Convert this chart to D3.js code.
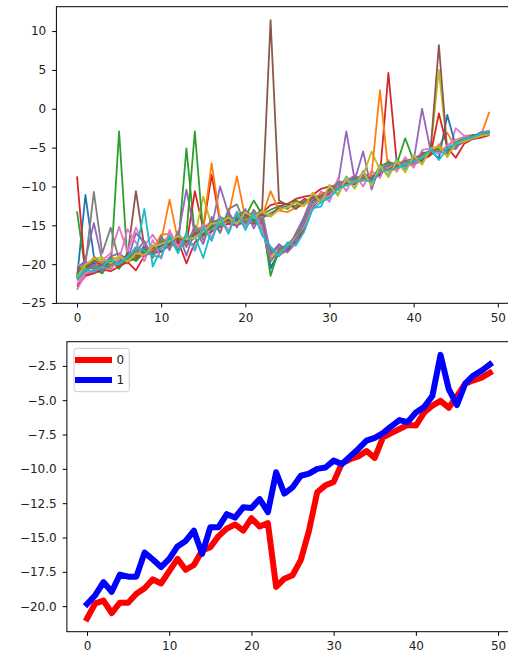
<!DOCTYPE html>
<html>
<head>
<meta charset="utf-8">
<script src="https://cdn.jsdelivr.net/npm/d3@7"></script>
<style>
  body { margin: 0; background: #fff; }
  svg { display: block; font-family: "DejaVu Sans", sans-serif; }
</style>
</head>
<body>
<div id="chart"></div>
<script>
// Step index shared by every line (x axis)
const steps = d3.range(50);

// Top panel: twenty runs
const series0 = [-21.8,-11.1,-19.0,-20.0,-19.3,-20.4,-18.6,-19.2,-17.6,-18.9,-17.9,-17.1,-16.8,-17.6,-16.5,-15.2,-15.4,-14.0,-14.6,-14.1,-14.0,-13.8,-14.6,-20.4,-18.6,-17.4,-17.2,-14.9,-12.2,-11.0,-10.6,-10.0,-9.0,-9.5,-8.4,-8.9,-7.9,-7.0,-7.4,-6.5,-7.2,-5.6,-5.7,-5.4,-5.2,-4.9,-4.0,-3.5,-3.3,-2.9];
const series1 = [-20.3,-20.5,-19.1,-21.0,-19.2,-19.3,-19.6,-18.2,-18.5,-17.9,-17.0,-11.7,-17.0,-16.4,-16.6,-15.3,-14.5,-14.8,-13.7,-8.7,-14.1,-14.6,-13.5,-19.2,-18.9,-18.2,-16.3,-15.2,-12.5,-11.6,-11.3,-9.8,-9.7,-8.8,-9.0,-8.8,-8.1,-7.7,-6.8,-7.1,-6.6,-6.2,-5.2,-4.8,-3.1,-5.0,-3.6,-3.8,-3.2,-3.1];
const series2 = [-13.2,-20.9,-20.2,-19.9,-20.6,-2.9,-19.8,-19.0,-18.6,-17.6,-17.8,-16.9,-17.9,-5.1,-16.3,-16.1,-15.2,-14.8,-14.4,-14.0,-13.9,-11.8,-13.6,-13.0,-12.5,-12.9,-11.8,-12.3,-11.4,-11.5,-10.7,-9.3,-9.6,-8.9,-8.9,-9.0,-7.5,-7.6,-7.3,-6.6,-6.7,-6.1,-5.6,-4.9,-5.8,-4.5,-3.9,-3.4,-3.5,-3.1];
const series3 = [-8.7,-21.3,-21.0,-20.8,-20.2,-20.0,-19.4,-19.4,-18.3,-18.8,-17.2,-17.3,-16.9,-17.5,-10.6,-15.4,-8.5,-14.6,-13.9,-14.2,-13.2,-13.8,-13.4,-12.4,-12.1,-12.3,-11.6,-11.3,-11.1,-10.3,-10.0,-9.9,-9.8,-9.3,-8.5,-8.6,-8.6,4.6,-7.0,-6.9,-7.0,-6.3,-5.9,-5.3,-5.4,-4.9,-4.2,-3.7,-3.6,-3.3];
const series4 = [-21.2,-19.4,-14.7,-19.6,-20.1,-19.2,-19.9,-17.9,-18.9,-18.0,-17.4,-17.6,-16.5,-10.4,-16.2,-15.0,-15.3,-10.0,-13.5,-14.8,-13.4,-14.5,-14.3,-18.8,-17.9,-18.1,-16.0,-13.9,-11.1,-11.4,-10.5,-9.7,-2.9,-9.2,-5.5,-10.4,-7.3,-7.9,-7.6,-6.7,-6.4,-5.8,-5.5,-5.6,-4.8,-5.2,-3.7,-3.9,-3.1,-2.8];
const series5 = [-20.6,-20.2,-20.0,-20.3,-19.4,-20.1,-18.9,-10.6,-17.8,-18.2,-17.7,-16.8,-17.2,-17.3,-15.8,-15.9,-14.7,-14.2,-14.8,-14.4,-13.8,-14.0,-12.9,11.4,-11.8,-12.4,-12.5,-11.6,-11.9,-10.8,-10.9,-10.2,-9.4,-9.0,-8.8,-9.4,-7.9,-7.2,-7.2,-7.0,-6.8,-5.7,-5.9,-5.0,-5.5,-4.6,-4.1,-3.7,-3.3,-3.2];
const series6 = [-22.6,-21.0,-20.8,-19.5,-18.6,-15.2,-18.4,-15.3,-17.6,-16.2,-17.9,-17.0,-17.6,-16.8,-16.7,-15.6,-15.6,-14.3,-14.2,-14.9,-13.5,-14.4,-14.4,-18.3,-18.2,-17.6,-17.0,-14.2,-13.0,-10.6,-12.0,-9.0,-10.6,-8.4,-10.0,-8.0,-8.9,-6.6,-8.1,-6.2,-7.6,-5.3,-5.1,-5.2,-6.0,-2.5,-3.5,-3.4,-3.5,-3.0];
const series7 = [-21.4,-20.0,-10.7,-18.6,-15.3,-19.5,-19.3,-18.4,-18.0,-18.6,-17.3,-16.4,-17.1,-16.9,-15.7,-15.8,-15.0,-14.5,-13.8,-14.6,-13.7,-13.9,-14.1,-13.4,-12.9,-12.5,-12.6,-12.2,-11.3,-11.1,-11.2,-9.9,-9.1,-9.4,-8.9,-8.8,-7.8,-7.3,-7.5,-6.9,-6.8,-6.0,-5.6,-5.3,-5.7,-4.8,-3.9,-3.6,-3.2,-3.1];
const series8 = [-20.0,-20.6,-19.9,-19.2,-20.4,-19.0,-19.4,-18.9,-18.4,-17.8,-17.6,-16.3,-17.5,-16.7,-16.4,-11.3,-15.1,-14.6,-14.3,-14.3,-13.9,-14.1,-14.5,-19.0,-18.4,-17.9,-16.9,-15.0,-12.3,-11.3,-10.8,-9.8,-9.4,-9.0,-8.6,-5.5,-7.9,-7.6,-7.3,-6.6,-7.1,-5.8,-5.6,5.0,-5.3,-4.6,-3.9,-3.5,-3.4,-3.1];
const series9 = [-21.6,-20.3,-20.4,-20.9,-19.6,-20.2,-18.8,-18.6,-12.9,-20.3,-18.0,-17.2,-18.0,-17.2,-16.4,-19.2,-15.5,-15.0,-14.0,-14.7,-14.3,-13.7,-15.8,-18.0,-18.8,-17.2,-17.5,-15.4,-12.8,-12.6,-10.2,-11.0,-8.7,-10.2,-8.0,-9.7,-7.2,-8.6,-6.5,-7.8,-6.3,-6.9,-5.3,-5.8,-4.9,-4.6,-3.8,-3.6,-3.3,-2.9];
const series10 = [-20.8,-20.9,-19.8,-20.6,-19.9,-19.6,-19.2,-18.8,-18.2,-18.3,-17.6,-16.7,-17.3,-17.1,-16.1,-15.9,-15.0,-14.5,-14.2,-14.4,-13.6,-14.3,-14.8,-20.6,-18.5,-18.3,-16.6,-14.6,-11.9,-11.2,-11.4,-9.5,-9.5,-8.9,-8.7,-9.1,-7.8,-7.5,-7.2,-6.8,-6.9,-5.9,-5.4,-6.4,-0.8,-4.8,-4.0,-3.4,-3.3,-3.0];
const series11 = [-21.1,-20.4,-20.3,-19.7,-20.3,-19.5,-19.8,-18.5,-18.7,-18.1,-16.2,-16.1,-17.8,-17.4,-15.5,-15.2,-7.0,-14.3,-14.6,-13.9,-14.2,-13.5,-13.9,-10.6,-13.1,-13.3,-12.7,-12.4,-11.6,-11.0,-11.1,-10.4,-9.7,-9.2,-9.3,-8.5,2.4,-8.1,-7.7,-7.3,-6.5,-6.4,-5.8,-4.6,-6.2,-4.3,-3.8,-3.7,-3.4,-0.4];
const series12 = [-21.3,-20.1,-20.6,-21.2,-19.5,-20.6,-19.0,-19.6,-18.5,-18.6,-17.1,-16.9,-18.2,-16.2,-2.9,-16.2,-15.3,-13.9,-14.5,-13.8,-13.1,-14.6,-14.2,-21.5,-18.1,-17.5,-16.4,-14.4,-12.1,-11.7,-10.8,-9.7,-9.9,-8.8,-8.8,-9.3,-7.4,-6.9,-7.1,-3.8,-6.7,-6.5,-5.6,-5.1,-5.9,-4.4,-3.7,-3.5,-3.4,-3.2];
const series13 = [-22.9,-21.5,-21.2,-20.7,-20.9,-20.3,-19.7,-20.8,-18.9,-18.5,-18.4,-17.5,-17.0,-19.9,-17.2,-16.3,-15.8,-15.2,-14.8,-15.0,-14.5,-14.8,-14.6,-18.5,-17.6,-18.0,-17.1,-15.6,-12.6,-11.4,-11.0,-10.3,-9.6,-9.7,-8.9,-9.5,-8.2,-7.8,-7.4,-7.3,-7.2,-6.6,-6.0,-0.6,-5.0,-6.3,-4.5,-3.9,-3.7,-3.4];
const series14 = [-20.5,-19.6,-20.7,-20.1,-19.0,-18.6,-19.5,-16.0,-17.2,-19.0,-16.6,-18.2,-15.8,-18.9,-15.6,-17.4,-13.9,-15.9,-13.2,-15.3,-12.9,-15.4,-13.3,-18.7,-17.4,-18.5,-17.3,-13.9,-11.2,-11.6,-10.7,-9.6,-9.3,-8.6,-9.1,-9.0,-7.7,-7.4,-7.0,-7.4,-6.7,0.0,-5.3,-5.5,-5.8,-4.6,-4.1,-3.6,-3.0,-3.1];
const series15 = [-20.9,-20.7,-19.5,-20.2,-19.7,-19.9,-18.7,-18.9,-18.4,-17.9,-17.5,-17.4,-16.6,-17.1,-16.1,-15.5,-15.1,-14.1,-14.4,-14.1,-14.0,-13.6,-13.7,-13.8,-12.6,-12.2,-12.9,-11.9,-11.5,-11.3,-10.4,-10.1,-9.5,-9.3,-8.4,-9.1,-8.0,-7.3,-7.4,-6.7,-7.0,-5.8,-5.5,8.2,-5.6,-4.7,-4.0,-3.6,-3.3,-3.0];
const series16 = [-23.3,-21.2,-20.9,-20.4,-20.7,-19.4,-15.5,-17.2,-19.6,-16.9,-19.3,-15.6,-17.9,-16.1,-18.3,-14.9,-16.6,-13.8,-15.7,-13.2,-15.4,-13.1,-15.5,-19.3,-18.7,-17.7,-16.5,-15.1,-12.4,-11.5,-11.2,-10.0,-9.3,-9.4,-8.2,-9.6,-7.5,-7.6,-6.9,-7.0,-7.3,-6.2,-5.4,-5.7,-4.7,-4.0,-3.6,-3.7,-3.5,-3.2];
const series17 = [-22.1,-20.8,-20.1,-20.8,-20.1,-19.7,-19.0,-18.5,-17.0,-19.2,-16.4,-18.0,-15.9,-17.8,-15.0,-16.9,-14.2,-16.0,-12.9,-12.3,-14.9,-13.0,-14.6,-19.7,-18.2,-17.9,-16.8,-14.7,-12.0,-11.5,-10.7,-10.2,-9.1,-9.2,-8.7,-9.3,-7.9,-7.2,-7.2,-6.8,-6.9,-6.0,-5.5,-5.4,-5.6,-4.9,-3.8,-3.6,-3.4,-3.1];
const series18 = [-21.7,-20.0,-19.3,-19.1,-19.9,-18.9,-19.7,-18.6,-18.8,-17.7,-17.4,-17.0,-16.4,-16.8,-16.6,-15.8,-14.8,-14.6,-14.0,-14.8,-13.3,-14.0,-13.2,-13.9,-13.0,-12.7,-12.1,-12.5,-10.8,-12.1,-9.8,-11.2,-8.9,-10.3,-8.1,-9.9,-7.3,-8.8,-6.7,-8.2,-6.0,-7.2,-5.1,-4.9,-6.1,-4.5,-4.2,-3.8,-3.5,-3.3];
const series19 = [-21.9,-20.6,-21.0,-20.3,-19.4,-20.0,-19.1,-17.8,-18.3,-18.9,-19.1,-16.3,-18.6,-16.0,-18.1,-15.2,-17.0,-14.0,-16.1,-13.3,-15.6,-13.5,-16.3,-17.7,-19.0,-17.3,-17.6,-15.8,-12.9,-12.0,-11.5,-10.3,-9.8,-9.5,-9.1,-9.4,-8.1,-7.9,-7.6,-7.2,-6.8,-6.4,-5.2,-6.6,-5.1,-4.5,-3.9,-3.7,-3.2,-2.9];

const topSeries = [series0, series1, series2, series3, series4, series5, series6, series7, series8, series9,
  series10, series11, series12, series13, series14, series15, series16, series17, series18, series19];

// Bottom panel: the two summary lines
const line0 = [-20.9,-19.8,-19.6,-20.5,-19.75,-19.75,-19.1,-18.7,-18.05,-18.35,-17.45,-16.55,-17.35,-17.0,-15.95,-15.7,-14.9,-14.35,-14.05,-14.5,-13.6,-14.2,-13.95,-18.6,-18.0,-17.75,-16.65,-14.5,-11.7,-11.2,-10.95,-9.6,-9.3,-9.1,-8.7,-9.2,-7.7,-7.4,-7.1,-6.8,-6.85,-5.9,-5.4,-5.05,-5.55,-4.7,-3.8,-3.55,-3.35,-3.0];
const line1 = [-19.85,-19.2,-18.25,-18.95,-17.7,-17.85,-17.85,-16.1,-16.6,-17.15,-16.55,-15.65,-15.25,-14.5,-16.2,-14.25,-14.25,-13.3,-13.55,-12.8,-12.85,-12.2,-13.15,-10.25,-11.8,-11.35,-10.5,-10.35,-10.0,-9.9,-9.4,-9.65,-9.1,-8.55,-7.95,-7.75,-7.4,-6.9,-6.45,-6.6,-5.9,-5.5,-4.7,-1.7,-4.2,-5.35,-3.8,-3.2,-2.85,-2.4];
const legendLabels = ["0", "1"];

// Tick labels
const xTicks = [0, 10, 20, 30, 40, 50];
const topYTicks = [-25, -20, -15, -10, -5, 0, 5, 10];
const bottomYTicks = [-20, -17.5, -15, -12.5, -10, -7.5, -5, -2.5];

// matplotlib default colour cycle
const palette = ["#1f77b4", "#ff7f0e", "#2ca02c", "#d62728", "#9467bd",
  "#8c564b", "#e377c2", "#7f7f7f", "#bcbd22", "#17becf"];

const width = 508, height = 653;

const svg = d3.select("#chart").append("svg")
  .attr("width", width)
  .attr("height", height);

svg.append("rect").attr("width", width).attr("height", height).attr("fill", "#fff");

// pad a domain by 5% on each side, like matplotlib autoscale
function padded(extent) {
  const pad = (extent[1] - extent[0]) * 0.05;
  return [extent[0] - pad, extent[1] + pad];
}

function drawPanel(box, yValues, yTicks, yFormat, id) {
  const x = d3.scaleLinear().domain(padded(d3.extent(steps))).range([box.left, box.right]);
  const y = d3.scaleLinear().domain(padded(d3.extent(yValues))).range([box.bottom, box.top]);

  svg.append("clipPath").attr("id", id)
    .append("rect")
    .attr("x", box.left).attr("y", box.top)
    .attr("width", box.right - box.left).attr("height", box.bottom - box.top);

  const plot = svg.append("g").attr("clip-path", `url(#${id})`);

  // axes
  const xAxis = svg.append("g")
    .attr("transform", `translate(0,${box.bottom})`)
    .call(d3.axisBottom(x).tickValues(xTicks).tickSize(4.2).tickPadding(6));
  const yAxis = svg.append("g")
    .attr("transform", `translate(${box.left},0)`)
    .call(d3.axisLeft(y).tickValues(yTicks).tickFormat(yFormat).tickSize(4.2).tickPadding(6));

  [xAxis, yAxis].forEach(a => {
    a.select(".domain").remove();
    a.selectAll(".tick line").attr("stroke", "#000").attr("stroke-width", 1);
    a.selectAll(".tick text")
      .attr("fill", "#222")
      .style("font-size", "12px")
      .style("font-family", "'DejaVu Sans', sans-serif");
  });

  // frame
  svg.append("rect")
    .attr("x", box.left).attr("y", box.top)
    .attr("width", box.right - box.left).attr("height", box.bottom - box.top)
    .attr("fill", "none")
    .attr("stroke", "#000")
    .attr("stroke-width", 1);

  return { x, y, plot };
}

// Top panel
const topBox = { left: 56.4, right: 510, top: 6.7, bottom: 303.3 };
const topPanel = drawPanel(topBox, topSeries.flat(), topYTicks, d3.format("d"), "clip-top");

const topLine = d3.line()
  .x((d, i) => topPanel.x(steps[i]))
  .y(d => topPanel.y(d));

topPanel.plot.selectAll(".run")
  .data(topSeries)
  .join("path")
  .attr("class", "run")
  .attr("d", topLine)
  .attr("fill", "none")
  .attr("stroke", (d, i) => palette[i % palette.length])
  .attr("stroke-width", 1.8)
  .attr("stroke-linejoin", "round");

// Bottom panel
const bottomBox = { left: 66.9, right: 510, top: 341.7, bottom: 631.7 };
const bottomPanel = drawPanel(bottomBox, line0.concat(line1), bottomYTicks, d3.format(".1f"), "clip-bottom");

const bottomLine = d3.line()
  .x((d, i) => bottomPanel.x(steps[i]))
  .y(d => bottomPanel.y(d));

const summaryLines = [
  { name: legendLabels[0], values: line0, color: "#ff0000" },
  { name: legendLabels[1], values: line1, color: "#0000ff" },
];

bottomPanel.plot.selectAll(".summary")
  .data(summaryLines)
  .join("path")
  .attr("class", "summary")
  .attr("d", d => bottomLine(d.values))
  .attr("fill", "none")
  .attr("stroke", d => d.color)
  .attr("stroke-width", 6)
  .attr("stroke-linejoin", "round")
  .attr("stroke-linecap", "square");

// Legend
const legend = svg.append("g").attr("transform", "translate(74,348.3)");
legend.append("rect")
  .attr("width", 55.3).attr("height", 43.4)
  .attr("rx", 3)
  .attr("fill", "#fff").attr("fill-opacity", 0.8)
  .attr("stroke", "#ccc").attr("stroke-width", 1);

summaryLines.forEach((d, i) => {
  const row = legend.append("g").attr("transform", `translate(0,${11.7 + i * 20})`);
  row.append("line")
    .attr("x1", 4).attr("x2", 35)
    .attr("stroke", d.color)
    .attr("stroke-width", 6)
    .attr("stroke-linecap", "square");
  row.append("text")
    .attr("x", 42.5).attr("y", 0)
    .attr("dy", "0.36em")
    .attr("fill", "#222")
    .style("font-size", "12px")
    .text(d.name);
});
</script>
</body>
</html>
